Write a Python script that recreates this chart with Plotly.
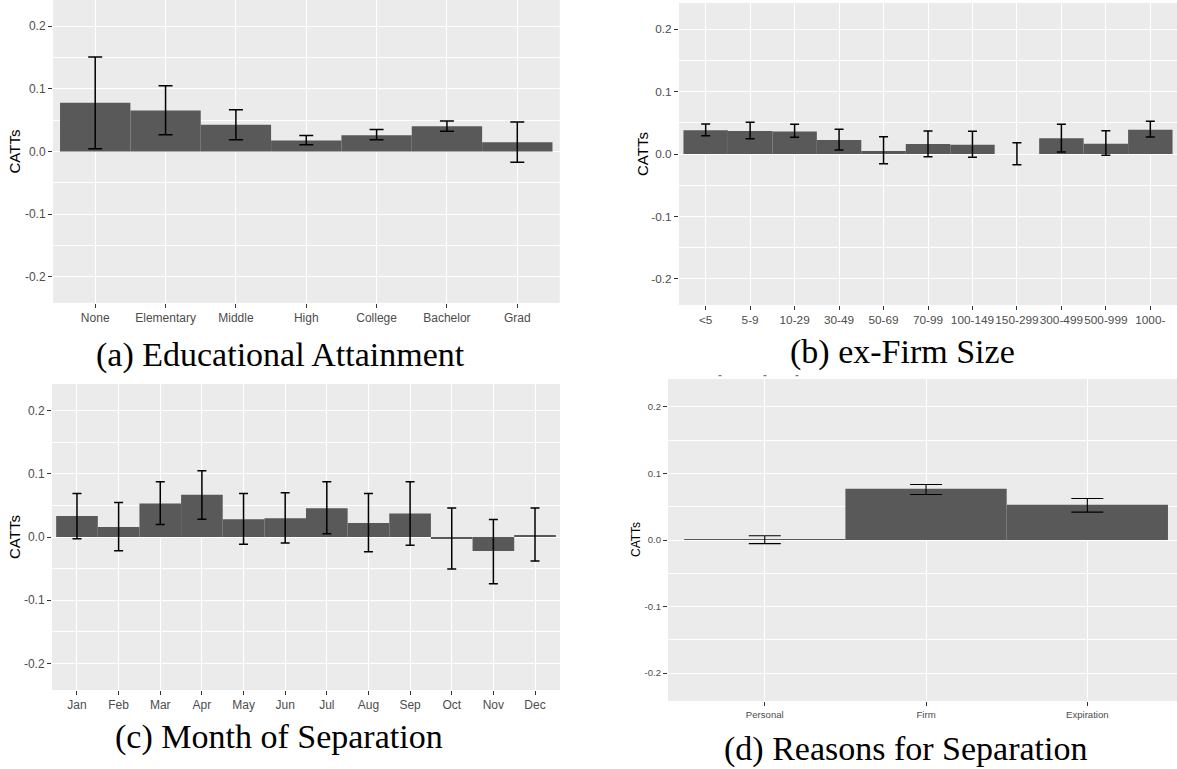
import plotly.graph_objects as go

# ---------------- data ----------------
# (a) Educational Attainment
edu_cats = ["None", "Elementary", "Middle", "High", "College", "Bachelor", "Grad"]
edu_catt = [0.0777, 0.0654, 0.0426, 0.0176, 0.0260, 0.0404, 0.0149]
edu_lo = [0.0043, 0.0266, 0.0186, 0.0106, 0.0186, 0.0324, -0.0170]
edu_hi = [0.1510, 0.1050, 0.0665, 0.0255, 0.0351, 0.0489, 0.0473]

# (b) ex-Firm Size
size_cats = ["<5", "5-9", "10-29", "30-49", "50-69", "70-99", "100-149",
             "150-299", "300-499", "500-999", "1000-"]
size_catt = [0.0379, 0.0368, 0.0362, 0.0224, 0.0048, 0.0160, 0.0149,
             0.0, 0.0251, 0.0165, 0.0389]
size_lo = [0.0293, 0.0245, 0.0267, 0.0064, -0.0155, -0.0043, -0.0053,
           -0.0171, 0.0032, -0.0021, 0.0272]
size_hi = [0.0480, 0.0507, 0.0475, 0.0395, 0.0277, 0.0368, 0.0363,
           0.0181, 0.0475, 0.0373, 0.0523]

# (c) Month of Separation
month_cats = ["Jan", "Feb", "Mar", "Apr", "May", "Jun", "Jul", "Aug",
              "Sep", "Oct", "Nov", "Dec"]
month_catt = [0.0333, 0.0159, 0.0529, 0.0667, 0.0280, 0.0296, 0.0455,
              0.0222, 0.0370, -0.0016, -0.0222, 0.0026]
month_lo = [-0.0026, -0.0217, 0.0196, 0.0280, -0.0116, -0.0095, 0.0053,
            -0.0233, -0.0132, -0.0508, -0.0740, -0.0380]
month_hi = [0.0688, 0.0545, 0.0873, 0.1048, 0.0688, 0.0698, 0.0873,
            0.0688, 0.0873, 0.0460, 0.0275, 0.0460]

# (d) Reasons for Separation
reason_cats = ["Personal", "Firm", "Expiration"]
reason_catt = [0.0010, 0.0769, 0.0528]
reason_lo = [-0.0055, 0.0683, 0.0419]
reason_hi = [0.0065, 0.0834, 0.0623]

y_ticks = [-0.2, -0.1, 0.0, 0.1, 0.2]
y_ticktext = ["-0.2", "-0.1", "0.0", "0.1", "0.2"]

captions = ["(a) Educational Attainment", "(b) ex-Firm Size",
            "(c) Month of Separation", "(d) Reasons for Separation"]

# ---------------- layout geometry (pixels) ----------------
W, H = 1177, 769


def px_x(v):
    return v / W


def px_y(v):
    return 1 - v / H


panels = [
    # cats, est, lo, hi, x-px domain, y-px domain, x-range max, cap half width,
    # tick font, title font, title x, err thickness
    dict(cats=edu_cats, est=edu_catt, lo=edu_lo, hi=edu_hi,
         xd=(53, 559.5), yd=(0, 303), xmax=6.6, cap=7, tf=12, ttf=15,
         tx=14, et=1.5),
    dict(cats=size_cats, est=size_catt, lo=size_lo, hi=size_hi,
         xd=(679, 1177), yd=(3, 305), xmax=10.6, cap=4.5, tf=11.8, ttf=15,
         tx=642, et=1.5),
    dict(cats=month_cats, est=month_catt, lo=month_lo, hi=month_hi,
         xd=(52, 560), yd=(384, 690), xmax=11.6, cap=4.5, tf=12, ttf=15,
         tx=14, et=1.5),
    dict(cats=reason_cats, est=reason_catt, lo=reason_lo, hi=reason_hi,
         xd=(668, 1177), yd=(379, 701), xmax=2.556, cap=16, tf=9.6, ttf=12,
         tx=636, et=1.1),
]

caption_pos = [(280, 355), (902, 352), (279, 737), (906, 749)]

PANEL_BG = "#EBEBEB"
BAR = "#595959"
TICK_TXT = "#4D4D4D"

fig = go.Figure()
layout = dict(
    width=W, height=H,
    margin=dict(l=0, r=0, t=0, b=0),
    paper_bgcolor="white",
    plot_bgcolor=PANEL_BG,
    showlegend=False,
    font=dict(family="Liberation Sans, Arial, sans-serif"),
    annotations=[],
    shapes=[],
)

for i, p in enumerate(panels):
    k = "" if i == 0 else str(i + 1)
    xa, ya = "x" + k, "y" + k
    # panel background
    layout["shapes"].append(dict(
        type="rect", xref=xa + " domain", yref=ya + " domain",
        x0=0, x1=1, y0=0, y1=1, fillcolor=PANEL_BG, line=dict(width=0),
        layer="below"))
    fig.add_trace(go.Bar(
        x=p["cats"], y=p["est"], width=1.0, xaxis=xa, yaxis=ya,
        marker=dict(color=BAR, line=dict(width=0)),
        hoverinfo="skip"))
    fig.add_trace(go.Scatter(
        x=p["cats"], y=p["est"], mode="markers", xaxis=xa, yaxis=ya,
        marker=dict(size=1, color="rgba(0,0,0,0)"),
        error_y=dict(type="data", symmetric=False,
                     array=[h - e for h, e in zip(p["hi"], p["est"])],
                     arrayminus=[e - l for e, l in zip(p["est"], p["lo"])],
                     color="black", thickness=p["et"], width=p["cap"]),
        hoverinfo="skip"))

    layout["xaxis" + k] = dict(
        domain=[px_x(p["xd"][0]), px_x(p["xd"][1])],
        anchor=ya, type="category", range=[-0.6, p["xmax"]],
        showgrid=True, gridcolor="white", gridwidth=1.1,
        ticks="outside", ticklen=4, tickcolor="#333333", tickwidth=1,
        tickangle=0,
        tickfont=dict(size=p["tf"], color=TICK_TXT),
        showline=False, zeroline=False, fixedrange=True)
    layout["yaxis" + k] = dict(
        domain=[px_y(p["yd"][1]), px_y(p["yd"][0])],
        anchor=xa, range=[-0.242, 0.242],
        tickmode="array", tickvals=y_ticks, ticktext=y_ticktext,
        showgrid=True, gridcolor="white", gridwidth=1.1,
        minor=dict(dtick=0.05, tick0=0, showgrid=True, gridcolor="white",
                   gridwidth=0.55),
        ticks="outside", ticklen=4, tickcolor="#333333", tickwidth=1,
        tickfont=dict(size=p["tf"], color=TICK_TXT),
        showline=False, zeroline=False, fixedrange=True)

    # axis title
    yc = (p["yd"][0] + p["yd"][1]) / 2
    layout["annotations"].append(dict(
        text="CATTs", xref="paper", yref="paper",
        x=px_x(p["tx"]), y=px_y(yc), textangle=-90, showarrow=False,
        xanchor="center", yanchor="middle",
        font=dict(size=p["ttf"], color="black")))

# sub-figure captions
for text, (cx, cy) in zip(captions, caption_pos):
    layout["annotations"].append(dict(
        text=text, xref="paper", yref="paper", x=px_x(cx), y=px_y(cy),
        showarrow=False, xanchor="center", yanchor="middle",
        font=dict(family="Liberation Serif, Times New Roman, serif",
                  size=34, color="black")))

# small stray marks left of caption (b)
for mx in (720, 765, 797):
    layout["shapes"].append(dict(
        type="line", xref="paper", yref="paper",
        x0=px_x(mx - 1.5), x1=px_x(mx + 1.5), y0=px_y(375.7), y1=px_y(375.7),
        line=dict(color="#555555", width=1)))

fig.update_layout(**layout)
fig.write_html("out.html")
